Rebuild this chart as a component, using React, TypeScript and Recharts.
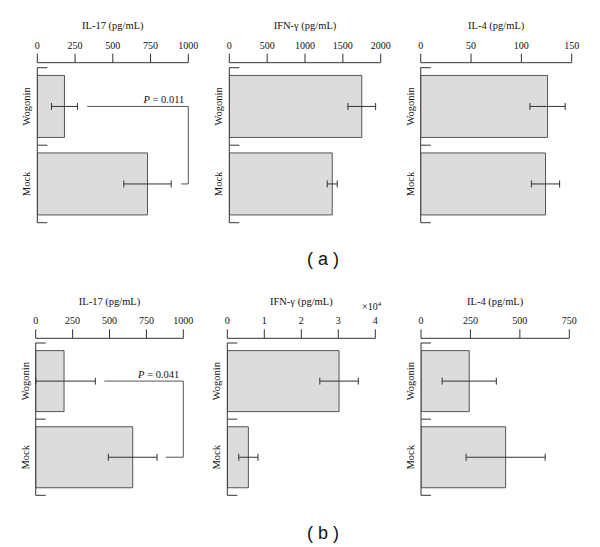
import { BarChart, Bar, XAxis, YAxis, ErrorBar, ReferenceLine } from 'recharts';

const categories = ['Wogonin', 'Mock'];

// (a)
const il17A = [180, 730];
const il17AErr = [86, 157];
const ifnA = [1750, 1360];
const ifnAErr = [183, 66];
const il4A = [126, 124];
const il4AErr = [17.5, 14];

// (b)
const il17B = [192, 657];
const il17BErr: (number | [number, number])[] = [[192, 212], 165];
const ifnB = [30200, 5700];
const ifnBErr = [5200, 2600];
const il4B = [244, 428];
const il4BErr = [137, 200];

const il17Ticks = [0, 250, 500, 750, 1000];
const ifnATicks = [0, 500, 1000, 1500, 2000];
const il4ATicks = [0, 50, 100, 150];
const ifnBTicks = [0, 10000, 20000, 30000, 40000];
const il4BTicks = [0, 250, 500, 750];

const SERIF = '"Liberation Serif", "Times New Roman", serif';
const SANS = '"Liberation Sans", Arial, sans-serif';

const CategoryTick = ({ x, y, payload, index, band, count }: any) => {
  const top = y - band / 2;
  const bottom = y + band / 2;
  const lx = x - 10.5;
  return (
    <g>
      <line x1={x} y1={top} x2={x} y2={bottom} stroke="#333" />
      <line x1={x} y1={top} x2={x + 10} y2={top} stroke="#333" />
      {index === count - 1 && <line x1={x} y1={bottom} x2={x + 10} y2={bottom} stroke="#333" />}
      <text
        x={lx}
        y={y}
        transform={`rotate(-90 ${lx} ${y})`}
        textAnchor="middle"
        dominantBaseline="central"
        fontSize={10.5}
        fontFamily={SERIF}
        fill="#111"
      >
        {payload.value}
      </text>
    </g>
  );
};

const PLabel = ({ viewBox, pv }: any) => {
  if (!viewBox) return null;
  const { x, y, width } = viewBox;
  return (
    <text x={x + width - 4} y={y - 3.5} textAnchor="end" fontSize={10.5} fontFamily={SERIF} fill="#111">
      <tspan fontStyle="italic">P</tspan> = {pv}
    </text>
  );
};

interface PanelProps {
  left: number;
  top: number;
  width: number;
  height: number;
  x0: number;
  x1: number;
  axisY: number;
  bandTop: number;
  bandBottom: number;
  title: string;
  titleY: number;
  values: number[];
  errors: (number | [number, number])[];
  ticks: number[];
  tickFormat?: (v: number) => string;
  pValue?: string;
  pStart?: number;
  pReturn?: number;
}

const Panel = (p: PanelProps) => {
  const data = categories.map((name, i) => ({ name, value: p.values[i], err: p.errors[i] }));
  const axisH = 30;
  const margin = {
    top: p.axisY - p.top - axisH,
    right: p.left + p.width - p.x1,
    bottom: p.top + p.height - p.bandBottom,
    left: 0,
  };
  const band = (p.bandBottom - p.bandTop) / categories.length;
  const max = p.ticks[p.ticks.length - 1];

  return (
    <div style={{ position: 'absolute', left: p.left, top: p.top, width: p.width, height: p.height }}>
      <div
        style={{
          position: 'absolute',
          left: p.x0 - p.left,
          width: p.x1 - p.x0,
          top: p.titleY - p.top - 8,
          height: 16,
          lineHeight: '16px',
          textAlign: 'center',
          fontSize: 10.5,
          fontFamily: SERIF,
          color: '#111',
          whiteSpace: 'nowrap',
        }}
      >
        {p.title}
      </div>
      <BarChart
        width={p.width}
        height={p.height}
        data={data}
        layout="vertical"
        margin={margin}
        barCategoryGap="10%"
        style={{ position: 'absolute', left: 0, top: 0 }}
      >
        <XAxis
          type="number"
          orientation="top"
          domain={[0, max]}
          ticks={p.ticks}
          interval={0}
          height={axisH}
          tickSize={9}
          tickMargin={5}
          stroke="#333"
          tick={{ fill: '#111', fontSize: 10, fontFamily: SERIF }}
          tickFormatter={p.tickFormat}
          allowDataOverflow
        />
        <YAxis
          type="category"
          dataKey="name"
          width={p.x0 - p.left}
          axisLine={false}
          tickLine={false}
          tickSize={0}
          tickMargin={0}
          padding={{ top: p.bandTop - p.axisY, bottom: 0 }}
          tick={<CategoryTick band={band} count={categories.length} />}
        />
        <Bar dataKey="value" fill="#dcdcdc" stroke="#555" strokeWidth={1} isAnimationActive={false}>
          <ErrorBar dataKey="err" direction="x" width={3.5} stroke="#333" strokeWidth={1} isAnimationActive={false} />
        </Bar>
        {p.pValue && (
          <ReferenceLine
            segment={[{ x: p.pStart, y: categories[0] }, { x: max, y: categories[0] }]}
            stroke="#555"
            label={<PLabel pv={p.pValue} />}
          />
        )}
        {p.pValue && (
          <ReferenceLine
            segment={[{ x: max, y: categories[0] }, { x: max, y: categories[1] }]}
            stroke="#555"
          />
        )}
        {p.pValue && (
          <ReferenceLine
            segment={[{ x: p.pReturn, y: categories[1] }, { x: max, y: categories[1] }]}
            stroke="#555"
          />
        )}
      </BarChart>
    </div>
  );
};

const rowA = { top: 0, height: 235, axisY: 62.7, bandTop: 67.7, bandBottom: 222.7, titleY: 26 };
const rowB = { top: 275, height: 235, axisY: 338.3, bandTop: 343, bandBottom: 495.3, titleY: 302 };

const App = () => {
  return (
    <div style={{ position: 'absolute', left: 0, top: 0, width: 600, height: 547, background: '#fff', overflow: 'hidden' }}>
      <Panel {...rowA} left={0} width={200} x0={37.3} x1={188.3} title="IL-17 (pg/mL)"
        values={il17A} errors={il17AErr} ticks={il17Ticks} pValue="0.011" pStart={331} pReturn={952} />
      <Panel {...rowA} left={195} width={200} x0={229.3} x1={380.7} title="IFN-γ (pg/mL)"
        values={ifnA} errors={ifnAErr} ticks={ifnATicks} />
      <Panel {...rowA} left={390} width={210} x0={420.7} x1={571.7} title="IL-4 (pg/mL)"
        values={il4A} errors={il4AErr} ticks={il4ATicks} />

      <Panel {...rowB} left={0} width={200} x0={35.7} x1={183.3} title="IL-17 (pg/mL)"
        values={il17B} errors={il17BErr} ticks={il17Ticks} pValue="0.041" pStart={465} pReturn={881} />
      <Panel {...rowB} left={195} width={200} x0={227.3} x1={375.3} title="IFN-γ (pg/mL)"
        values={ifnB} errors={ifnBErr} ticks={ifnBTicks} tickFormat={(v) => String(v / 10000)} />
      <Panel {...rowB} left={390} width={210} x0={421} x1={569.3} title="IL-4 (pg/mL)"
        values={il4B} errors={il4BErr} ticks={il4BTicks} />

      <div style={{ position: 'absolute', left: 362, top: 300, fontSize: 10, fontFamily: SERIF, color: '#111', whiteSpace: 'nowrap', lineHeight: '14px' }}>
        ×10<sup style={{ fontSize: 7, verticalAlign: 'top', lineHeight: '8px' }}>4</sup>
      </div>

      <div style={{ position: 'absolute', left: 273, width: 100, top: 247, height: 24, lineHeight: '24px', textAlign: 'center', fontSize: 18, fontFamily: SANS, color: '#111', whiteSpace: 'pre' }}>
        {'( a )'}
      </div>
      <div style={{ position: 'absolute', left: 273, width: 100, top: 521, height: 24, lineHeight: '24px', textAlign: 'center', fontSize: 18, fontFamily: SANS, color: '#111', whiteSpace: 'pre' }}>
        {'( b )'}
      </div>
    </div>
  );
};

export default App;
